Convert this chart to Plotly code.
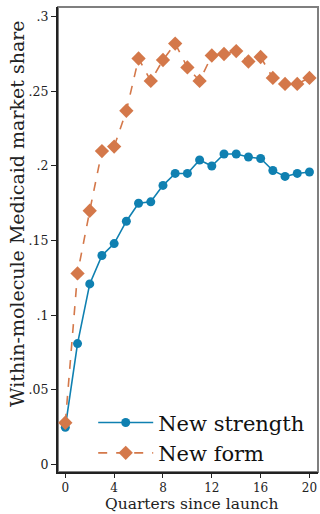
import plotly.graph_objects as go

quarters = list(range(21))
new_strength = [0.025, 0.081, 0.121, 0.140, 0.148, 0.163, 0.175, 0.176, 0.187, 0.195, 0.195,
                0.204, 0.200, 0.208, 0.208, 0.206, 0.205, 0.197, 0.193, 0.195, 0.196]
new_form = [0.028, 0.128, 0.170, 0.210, 0.213, 0.237, 0.272, 0.257, 0.271, 0.282, 0.266,
            0.257, 0.274, 0.275, 0.277, 0.270, 0.273, 0.259, 0.255, 0.255, 0.259]
x_ticks = [0, 4, 8, 12, 16, 20]
y_ticks = [0, 0.05, 0.1, 0.15, 0.2, 0.25, 0.3]
y_tick_labels = ["0", ".05", ".1", ".15", ".2", ".25", ".3"]

BLUE = "#0f80b1"
ORANGE = "#d4784a"
FONT = "DejaVu Serif"
W, H = 320, 514
ML, MR, MT, MB = 58, 2, 7, 42

fig = go.Figure()
fig.add_trace(go.Scatter(x=quarters, y=new_strength, name="New strength", mode="lines+markers",
                         line=dict(color=BLUE, width=1.6),
                         marker=dict(symbol="circle", size=9, color=BLUE)))
fig.add_trace(go.Scatter(x=quarters, y=new_form, name="New form", mode="lines+markers",
                         line=dict(color=ORANGE, width=1.6, dash="dash"),
                         marker=dict(symbol="diamond", size=11, color=ORANGE)))

fig.add_shape(type="rect", xref="paper", yref="paper", x0=0, y0=0, x1=1, y1=1,
              line=dict(color="#7f7f7f", width=2), layer="below")

plot_h = H - MT - MB
plot_w = W - ML - MR
fig.add_annotation(text="Within-molecule Medicaid market share", textangle=-90,
                   xref="paper", yref="paper", x=(17 - ML) / plot_w,
                   y=(H - MB - 214) / plot_h, xanchor="center", yanchor="middle",
                   showarrow=False, font=dict(size=19, family=FONT, color="#222222"))
fig.add_annotation(text="Quarters since launch", xref="paper", yref="paper",
                   x=(192 - ML) / plot_w, y=(H - MB - 504) / plot_h,
                   xanchor="center", yanchor="middle",
                   showarrow=False, font=dict(size=15.5, family=FONT, color="#222222"))

fig.update_layout(
    width=W, height=H,
    margin=dict(l=ML, r=MR, t=MT, b=MB),
    paper_bgcolor="white", plot_bgcolor="white",
    font=dict(family=FONT, color="#222222", size=12),
    showlegend=True,
    legend=dict(x=0.97, y=-0.003, xanchor="right", yanchor="bottom",
                font=dict(size=21, family=FONT, color="#111111"),
                bgcolor="rgba(255,255,255,0)", tracegroupgap=0, itemwidth=55),
    xaxis=dict(range=[-0.6, 20.7], tickvals=x_ticks, showgrid=False, zeroline=False,
               ticks="outside", ticklen=4, tickcolor="#222", showline=True, linecolor="#222",
               linewidth=2, tickfont=dict(size=12)),
    yaxis=dict(range=[-0.005, 0.3065], tickvals=y_ticks, ticktext=y_tick_labels, showgrid=False,
               zeroline=False, ticks="outside", ticklen=5, tickcolor="#222", showline=True,
               linecolor="#222", linewidth=2, tickfont=dict(size=12.5)),
)

fig.write_html("out.html", config={"displayModeBar": False},
               post_script="document.body.style.margin='0';")
